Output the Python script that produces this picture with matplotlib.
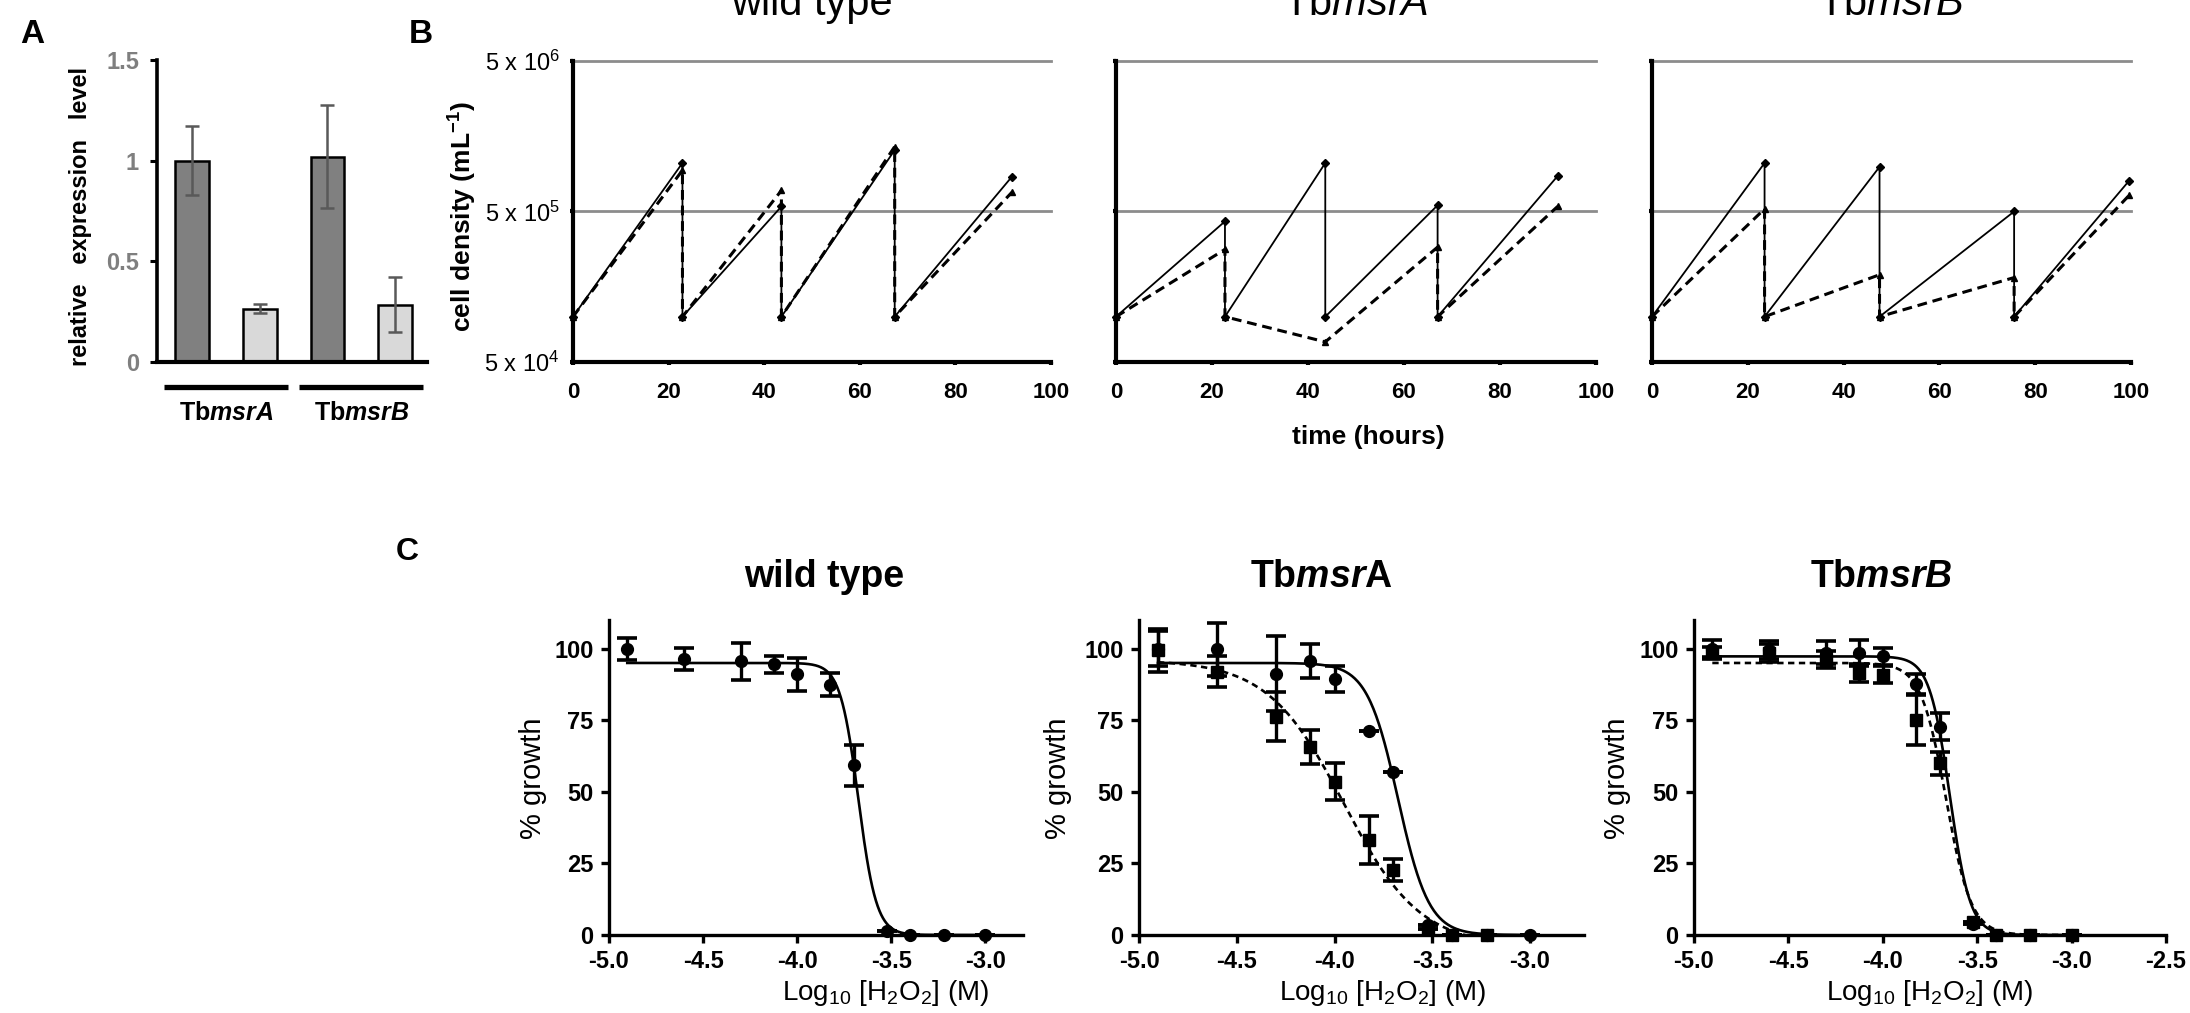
import numpy as np
import matplotlib
matplotlib.use("Agg")
from matplotlib import pyplot as plt
from matplotlib.ticker import NullLocator

plt.rcParams["font.family"] = ["Liberation Sans", "DejaVu Sans"]
plt.rcParams["mathtext.fontset"] = "custom"
plt.rcParams["mathtext.rm"] = "Liberation Sans"
plt.rcParams["mathtext.it"] = "Liberation Sans:italic"
plt.rcParams["mathtext.bf"] = "Liberation Sans:bold"
plt.rcParams["mathtext.bfit"] = "Liberation Sans:italic:bold"
plt.rcParams["axes.unicode_minus"] = False

W, H = 2190, 1013

# ---------------- data ----------------
# A: relative expression level (control, RNAi) per gene
gene_labels = [r"Tb$\mathbfit{msrA}$", r"Tb$\mathbfit{msrB}$"]
expr_ctrl = [1.00, 1.02]
expr_ctrl_err = [0.17, 0.255]
expr_rnai = [0.265, 0.285]
expr_rnai_err = [0.023, 0.135]

# B: cell density (mL-1) over time (hours); solid = uninduced, dashed = induced
b_titles = ["wild type", r"Tb$\mathit{msrA}$", r"Tb$\mathit{msrB}$"]
wt_t = [0, 22.9, 22.9, 43.6, 43.6, 67.3, 67.3, 91.8]
wt_solid = [1.0e5, 1.05e6, 1.0e5, 5.4e5, 1.0e5, 1.28e6, 1.0e5, 8.5e5]
wt_dashed = [1.0e5, 9.4e5, 1.0e5, 6.9e5, 1.0e5, 1.35e6, 1.0e5, 6.7e5]

msrA_t = [0, 22.7, 22.7, 43.6, 43.6, 67.0, 67.0, 92.0]
msrA_solid = [1.0e5, 4.3e5, 1.0e5, 1.05e6, 1.0e5, 5.5e5, 1.0e5, 8.6e5]
msrA_t_dashed = [0, 22.7, 22.7, 43.6, 67.0, 67.0, 92.0]
msrA_dashed = [1.0e5, 2.8e5, 1.0e5, 6.8e4, 2.9e5, 1.0e5, 5.4e5]

msrB_t = [0, 23.5, 23.5, 47.5, 47.5, 75.6, 75.6, 99.6]
msrB_solid = [1.0e5, 1.05e6, 1.0e5, 9.9e5, 1.0e5, 5.0e5, 1.0e5, 8.0e5]
msrB_dashed = [1.0e5, 5.2e5, 1.0e5, 1.9e5, 1.0e5, 1.82e5, 1.0e5, 6.4e5]

# C: % growth vs log10 [H2O2] (M)
log_h2o2 = [-4.903, -4.602, -4.301, -4.125, -4.0, -3.824, -3.699, -3.523, -3.398, -3.222, -3.0]
c_titles = ["wild type", r"Tb$\mathbfit{msr}$A", r"Tb$\mathbfit{msrB}$"]

wt_circ = [100, 96.5, 95.6, 94.6, 91.0, 87.4, 59.2, 1.5, 0, 0, 0]
wt_circ_err = [3.8, 3.8, 6.5, 3.0, 5.8, 4.0, 7.3, 0, 0, 0, 0]

msrA_circ = [100, 99.8, 91.3, 95.6, 89.5, 71.4, 56.9, 3.5, 0, 0, 0]
msrA_circ_err = [6.0, 9.3, 13.2, 6.0, 4.5, 0, 0, 0, 0, 0, 0]
msrA_sq = [99.5, 92.0, 76.3, 65.6, 53.6, 33.2, 22.7, 2.0, 0, 0, np.nan]
msrA_sq_err = [7.5, 5.5, 8.7, 6.0, 6.5, 8.5, 4.0, 0, 0, 0, np.nan]

msrB_circ = [100, 99.5, 98.5, 98.6, 97.3, 87.6, 72.8, 4.0, 0, 0, 0]
msrB_circ_err = [3.0, 3.0, 4.0, 4.5, 3.0, 3.7, 4.8, 0, 0, 0, 0]
msrB_sq = [98.5, 98.5, 96.2, 91.5, 90.9, 75.2, 60.0, 4.7, 0, 0, 0]
msrB_sq_err = [2.0, 3.0, 3.0, 3.0, 3.0, 9.0, 4.0, 0, 0, 0, 0]

# fitted dose-response parameters (top, bottom, logIC50, hill slope)
wt_fit = (95.0, 0.0, -3.675, 9.0)
msrA_fit_circ = (95.0, 0.0, -3.675, 5.5)
msrA_fit_sq = (96.0, -4.0, -3.953, 2.23)
msrB_fit_circ = (97.3, 0.0, -3.645, 8.0)
msrB_fit_sq = (95.0, 0.0, -3.665, 6.5)

# ---------------- figure ----------------
fig = plt.figure(figsize=(W / 100, H / 100), dpi=100)


def add_axes_px(left, top, right, bottom):
    return fig.add_axes([left / W, 1 - bottom / H, (right - left) / W, (bottom - top) / H])


def fig_text(x, y, s, **kw):
    return fig.text(x / W, 1 - y / H, s, **kw)


def style_spines(ax, lw):
    ax.spines["top"].set_visible(False)
    ax.spines["right"].set_visible(False)
    ax.spines["left"].set_linewidth(lw)
    ax.spines["bottom"].set_linewidth(lw)


def dose_response(x, params):
    top, bottom, logic50, hill = params
    return bottom + (top - bottom) / (1 + 10 ** ((x - logic50) * hill))


# panel letters
fig_text(20, 43, "A", fontsize=24, fontweight="bold", va="baseline")
fig_text(409, 43, "B", fontsize=24, fontweight="bold", va="baseline")
fig_text(396, 560, "C", fontsize=23, fontweight="bold", va="baseline")

# ---- A ----
ax = add_axes_px(157, 60, 427, 362)
pos = np.arange(4)
heights = [expr_ctrl[0], expr_rnai[0], expr_ctrl[1], expr_rnai[1]]
errs = [expr_ctrl_err[0], expr_rnai_err[0], expr_ctrl_err[1], expr_rnai_err[1]]
colors = ["#808080", "#d9d9d9", "#808080", "#d9d9d9"]
ax.bar(pos, heights, width=0.5, color=colors, edgecolor="black", linewidth=1.8,
       yerr=errs, error_kw=dict(ecolor="#595959", elinewidth=1.8, capsize=5, capthick=1.8),
       zorder=2)
ax.set_xlim(-0.517, 3.47)
ax.set_ylim(0, 1.5)
ax.set_yticks([0, 0.5, 1, 1.5])
ax.set_yticklabels(["0", "0.5", "1", "1.5"])
ax.set_xticks([])
ax.tick_params(axis="y", length=5, width=2.2, labelcolor="#7f7f7f", labelsize=17, pad=8)
for lbl in ax.get_yticklabels():
    lbl.set_fontweight("bold")
style_spines(ax, 2.6)
ax.spines["bottom"].set_linewidth(3.0)
for i, label in enumerate(gene_labels):
    centre = 2 * i + 0.5
    ax.plot([centre - 0.915, centre + 0.915], [-0.124, -0.124], color="black", lw=3.8,
            clip_on=False, solid_capstyle="butt")
    ax.text(centre, -0.253, label, ha="center", va="center", fontsize=18, fontweight="bold")
fig_text(81, 217, "relative   expression   level", rotation=90, ha="center", va="center",
         fontsize=17, fontweight="bold")

# ---- B ----
b_boxes = [(573, 61, 1051, 362), (1116, 61, 1596, 362), (1652, 61, 2131, 362)]
b_series = [
    (wt_t, wt_solid, wt_t, wt_dashed),
    (msrA_t, msrA_solid, msrA_t_dashed, msrA_dashed),
    (msrB_t, msrB_solid, msrB_t, msrB_dashed),
]
for k, (box, series, title) in enumerate(zip(b_boxes, b_series, b_titles)):
    ax = add_axes_px(*box)
    t_s, solid, t_d, dashed = series
    ax.set_yscale("log")
    ax.set_xlim(0, 100)
    ax.set_ylim(5e4, 5e6)
    for level in (5e5, 5e6):
        ax.axhline(level, color="#8c8c8c", lw=2.0, zorder=1, clip_on=False)
    ax.plot(t_d, dashed, color="black", lw=2.2, linestyle="--", dashes=(3.2, 1.9),
            marker="^", ms=5, zorder=3, clip_on=False)
    ax.plot(t_s, solid, color="black", lw=1.3, marker="D", ms=4, zorder=4, clip_on=False)
    ax.set_yticks([5e4, 5e5, 5e6])
    ax.yaxis.set_minor_locator(NullLocator())
    ax.set_xticks([0, 20, 40, 60, 80, 100])
    ax.tick_params(axis="both", length=2.5, width=3, pad=12)
    ax.tick_params(axis="x", labelsize=16)
    for lbl in ax.get_xticklabels():
        lbl.set_fontweight("bold")
    if k == 0:
        ax.set_yticklabels([r"5 x 10$^{4}$", r"5 x 10$^{5}$", r"5 x 10$^{6}$"], fontsize=17)
        ax.tick_params(axis="y", pad=7)
    else:
        ax.set_yticklabels([])
    style_spines(ax, 3.0)
    centre_x = (box[0] + box[2]) / 2
    fig_text(centre_x, 15, title, ha="center", va="baseline", fontsize=30)
fig_text(463, 217, r"cell density (mL$^{\mathbf{-1}}$)", rotation=90, ha="center",
         va="center", fontsize=19, fontweight="bold")
fig_text(1368, 437, "time (hours)", ha="center", va="center", fontsize=19, fontweight="bold")

# ---- C ----
c_boxes = [(609, 620, 1023, 935), (1139, 620, 1584, 935), (1694, 620, 2166, 935)]
c_xmax = [-2.8, -2.724, -2.5]
c_title_x = [824, 1321, 1881]
c_ylabel_x = [533, 1058, 1617]
c_xlabel_x = [885, 1382, 1929]
c_series = [
    [(wt_circ, wt_circ_err, wt_fit, "o", "-")],
    [(msrA_sq, msrA_sq_err, msrA_fit_sq, "s", "--"),
     (msrA_circ, msrA_circ_err, msrA_fit_circ, "o", "-")],
    [(msrB_sq, msrB_sq_err, msrB_fit_sq, "s", "--"),
     (msrB_circ, msrB_circ_err, msrB_fit_circ, "o", "-")],
]
x_fit = np.linspace(log_h2o2[0], log_h2o2[-1], 400)
for k in range(3):
    ax = add_axes_px(*c_boxes[k])
    for vals, err, fit, marker, ls in c_series[k]:
        if ls == "--":
            ax.plot(x_fit, dose_response(x_fit, fit), color="black", lw=1.9,
                    linestyle="--", dashes=(2.4, 1.7), zorder=2)
        else:
            ax.plot(x_fit, dose_response(x_fit, fit), color="black", lw=1.9, zorder=2)
        ax.errorbar(log_h2o2, vals, yerr=err, fmt=marker, color="black",
                    ms=8.5 if marker == "o" else 8, elinewidth=2.4, capsize=7, capthick=2.6,
                    zorder=3, clip_on=False)
    ax.set_xlim(-5.0, c_xmax[k])
    ax.set_ylim(0, 110)
    ax.set_yticks([0, 25, 50, 75, 100])
    ticks = [-5.0, -4.5, -4.0, -3.5, -3.0] if k < 2 else [-5.0, -4.5, -4.0, -3.5, -3.0, -2.5]
    ax.set_xticks(ticks)
    ax.set_xticklabels([f"{t:.1f}" for t in ticks])
    ax.tick_params(axis="both", length=6, width=2.4, labelsize=17, pad=5)
    for lbl in ax.get_xticklabels() + ax.get_yticklabels():
        lbl.set_fontweight("bold")
    style_spines(ax, 2.4)
    fig_text(c_title_x[k], 587, c_titles[k], ha="center", va="baseline", fontsize=27,
             fontweight="bold")
    fig_text(c_ylabel_x[k], 778, "% growth", rotation=90, ha="center", va="center", fontsize=21)
    fig_text(c_xlabel_x[k], 993, r"Log$_{10}$ [H$_2$O$_2$] (M)", ha="center", va="center",
             fontsize=20)

fig.savefig("out.png", dpi=100, facecolor="white")
